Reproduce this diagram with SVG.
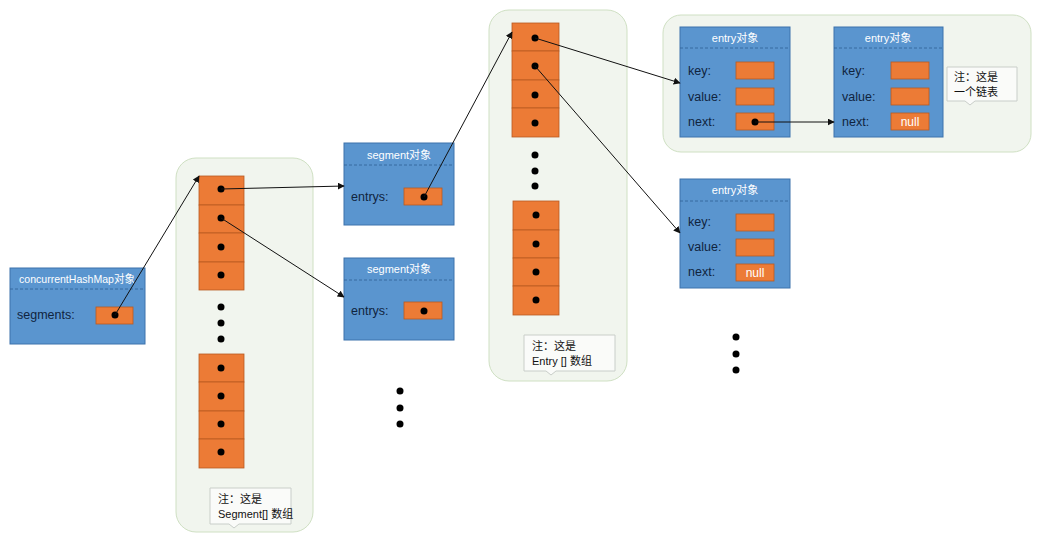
<svg xmlns="http://www.w3.org/2000/svg" width="1040" height="543" viewBox="0 0 1040 543">
<style>
.bg{fill:#fff}
.cont{fill:#F1F5EE;stroke:#CFE0C3;stroke-width:1}
.obj{fill:#5A95CF;stroke:#3C72AC;stroke-width:1}
.hd{stroke:#2E5F94;stroke-width:0.8;stroke-dasharray:3,2}
.cell{fill:#EC7B36;stroke:#B85A22;stroke-width:0.8}
.title{font-family:"Liberation Sans","Noto Sans CJK SC",sans-serif;font-size:11px;fill:#fff;text-anchor:middle}
.lbl{font-family:"Liberation Sans","Noto Sans CJK SC",sans-serif;font-size:12.5px;fill:#10243E}
.null{font-family:"Liberation Sans",sans-serif;font-size:12px;fill:#fff;text-anchor:middle}
.note{fill:#FAFBF9;stroke:#C9CEC9;stroke-width:1}
.nt{font-family:"Liberation Sans","Noto Sans CJK SC",sans-serif;font-size:11px;fill:#111}
.dot{fill:#000}
.conn line{stroke:#111;stroke-width:1;marker-end:url(#ah)}
</style>
<defs>
<marker id="ah" viewBox="0 0 10 10" refX="9" refY="5" markerWidth="7" markerHeight="7" orient="auto" markerUnits="userSpaceOnUse">
<path d="M0,0 L10,5 L0,10 z" fill="#111"/>
</marker>
</defs>
<rect class="bg" width="1040" height="543"/>

<g id="map">
<rect class="obj" x="10" y="268" width="135" height="76"/>
<line class="hd" x1="10" y1="289" x2="145" y2="289"/>
<text class="title" x="77" y="283" textLength="116" lengthAdjust="spacingAndGlyphs">concurrentHashMap对象</text>
<text class="lbl" x="17" y="319">segments:</text>
<rect class="cell" x="96" y="307" width="37" height="17"/>
<circle class="dot" cx="115" cy="315" r="3.5"/>
</g>

<g id="segArray">
<rect class="cont" x="176" y="158" width="137" height="374" rx="20"/>
<rect class="cell" x="199" y="176" width="45" height="29"/>
<rect class="cell" x="199" y="205" width="45" height="28"/>
<rect class="cell" x="199" y="233" width="45" height="29"/>
<rect class="cell" x="199" y="262" width="45" height="28"/>
<circle class="dot" cx="221" cy="189" r="3.5"/>
<circle class="dot" cx="221" cy="218" r="3.5"/>
<circle class="dot" cx="221" cy="247" r="3.5"/>
<circle class="dot" cx="221" cy="275" r="3.5"/>
<circle class="dot" cx="221" cy="307" r="3.5"/>
<circle class="dot" cx="221" cy="323" r="3.5"/>
<circle class="dot" cx="221" cy="339" r="3.5"/>
<rect class="cell" x="199" y="354" width="45" height="28"/>
<rect class="cell" x="199" y="382" width="45" height="29"/>
<rect class="cell" x="199" y="411" width="45" height="28"/>
<rect class="cell" x="199" y="439" width="45" height="29"/>
<circle class="dot" cx="221" cy="368" r="3.5"/>
<circle class="dot" cx="221" cy="396" r="3.5"/>
<circle class="dot" cx="221" cy="424" r="3.5"/>
<circle class="dot" cx="221" cy="452" r="3.5"/>
<path class="note" d="M210,488 H291 V524 H239 L234,528 L229,524 H210 Z"/>
<text class="nt" x="218" y="503">注：这是</text>
<text class="nt" x="218" y="518">Segment[] 数组</text>
</g>

<g id="seg1">
<rect class="obj" x="344" y="143" width="110" height="82"/>
<line class="hd" x1="344" y1="165" x2="454" y2="165"/>
<text class="title" x="399" y="159">segment对象</text>
<text class="lbl" x="351" y="201">entrys:</text>
<rect class="cell" x="404" y="188" width="38" height="17"/>
<circle class="dot" cx="424" cy="197" r="3.5"/>
</g>

<g id="seg2">
<rect class="obj" x="344" y="258" width="110" height="82"/>
<line class="hd" x1="344" y1="280" x2="454" y2="280"/>
<text class="title" x="399" y="273">segment对象</text>
<text class="lbl" x="351" y="315">entrys:</text>
<rect class="cell" x="404" y="302" width="38" height="17"/>
<circle class="dot" cx="424" cy="311" r="3.5"/>
</g>

<g id="segMore">
<circle class="dot" cx="400" cy="391" r="3.5"/>
<circle class="dot" cx="400" cy="408" r="3.5"/>
<circle class="dot" cx="400" cy="424" r="3.5"/>
</g>

<g id="entryArray">
<rect class="cont" x="489" y="10" width="138" height="371" rx="20"/>
<rect class="cell" x="512" y="23" width="47" height="28"/>
<rect class="cell" x="512" y="51" width="47" height="29"/>
<rect class="cell" x="512" y="80" width="47" height="28"/>
<rect class="cell" x="512" y="108" width="47" height="29"/>
<circle class="dot" cx="535" cy="38" r="3.5"/>
<circle class="dot" cx="535" cy="66" r="3.5"/>
<circle class="dot" cx="535" cy="95" r="3.5"/>
<circle class="dot" cx="535" cy="123" r="3.5"/>
<circle class="dot" cx="535" cy="155" r="3.5"/>
<circle class="dot" cx="535" cy="171" r="3.5"/>
<circle class="dot" cx="535" cy="186" r="3.5"/>
<rect class="cell" x="513" y="201" width="46" height="29"/>
<rect class="cell" x="513" y="230" width="46" height="28"/>
<rect class="cell" x="513" y="258" width="46" height="28"/>
<rect class="cell" x="513" y="286" width="46" height="29"/>
<circle class="dot" cx="536" cy="215" r="3.5"/>
<circle class="dot" cx="536" cy="244" r="3.5"/>
<circle class="dot" cx="536" cy="272" r="3.5"/>
<circle class="dot" cx="536" cy="300" r="3.5"/>
<path class="note" d="M524,335 H615 V371 H556 L551,375 L546,371 H524 Z"/>
<text class="nt" x="532" y="350">注：这是</text>
<text class="nt" x="532" y="365">Entry [] 数组</text>
</g>

<g id="listGroup">
<rect class="cont" x="663" y="15" width="368" height="137" rx="18"/>
<path class="note" d="M947,67 H1017 V101 H975 L970,105 L965,101 H947 Z"/>
<text class="nt" x="954" y="81">注：这是</text>
<text class="nt" x="954" y="96">一个链表</text>
</g>

<g id="entry1">
<rect class="obj" x="680" y="27" width="110" height="110"/>
<line class="hd" x1="680" y1="48" x2="790" y2="48"/>
<text class="title" x="735" y="42">entry对象</text>
<text class="lbl" x="688" y="75">key:</text>
<text class="lbl" x="688" y="101">value:</text>
<text class="lbl" x="688" y="126">next:</text>
<rect class="cell" x="736" y="62" width="38" height="17"/>
<rect class="cell" x="736" y="88" width="38" height="17"/>
<rect class="cell" x="736" y="113" width="38" height="17"/>
<circle class="dot" cx="755" cy="122" r="3.5"/>
</g>

<g id="entry2">
<rect class="obj" x="834" y="27" width="109" height="110"/>
<line class="hd" x1="834" y1="48" x2="943" y2="48"/>
<text class="title" x="888" y="42">entry对象</text>
<text class="lbl" x="842" y="75">key:</text>
<text class="lbl" x="842" y="101">value:</text>
<text class="lbl" x="842" y="126">next:</text>
<rect class="cell" x="891" y="62" width="38" height="17"/>
<rect class="cell" x="891" y="88" width="38" height="17"/>
<rect class="cell" x="891" y="113" width="38" height="17"/>
<text class="null" x="910" y="126">null</text>
</g>

<g id="entry3">
<rect class="obj" x="680" y="179" width="110" height="109"/>
<line class="hd" x1="680" y1="201" x2="790" y2="201"/>
<text class="title" x="735" y="194">entry对象</text>
<text class="lbl" x="688" y="226">key:</text>
<text class="lbl" x="688" y="251">value:</text>
<text class="lbl" x="688" y="276">next:</text>
<rect class="cell" x="736" y="214" width="38" height="17"/>
<rect class="cell" x="736" y="239" width="38" height="17"/>
<rect class="cell" x="736" y="264" width="38" height="17"/>
<text class="null" x="755" y="277">null</text>
</g>

<g id="entryMore">
<circle class="dot" cx="736" cy="337" r="3.5"/>
<circle class="dot" cx="736" cy="354" r="3.5"/>
<circle class="dot" cx="736" cy="370" r="3.5"/>
</g>

<g class="conn" id="connectors">
<line x1="115" y1="315" x2="199" y2="176"/>
<line x1="221" y1="189" x2="344" y2="186"/>
<line x1="221" y1="218" x2="344" y2="297"/>
<line x1="424" y1="197" x2="512" y2="32"/>
<line x1="535" y1="38" x2="680" y2="83"/>
<line x1="535" y1="66" x2="680" y2="233"/>
<line x1="755" y1="122" x2="834" y2="122"/>
</g>
</svg>
